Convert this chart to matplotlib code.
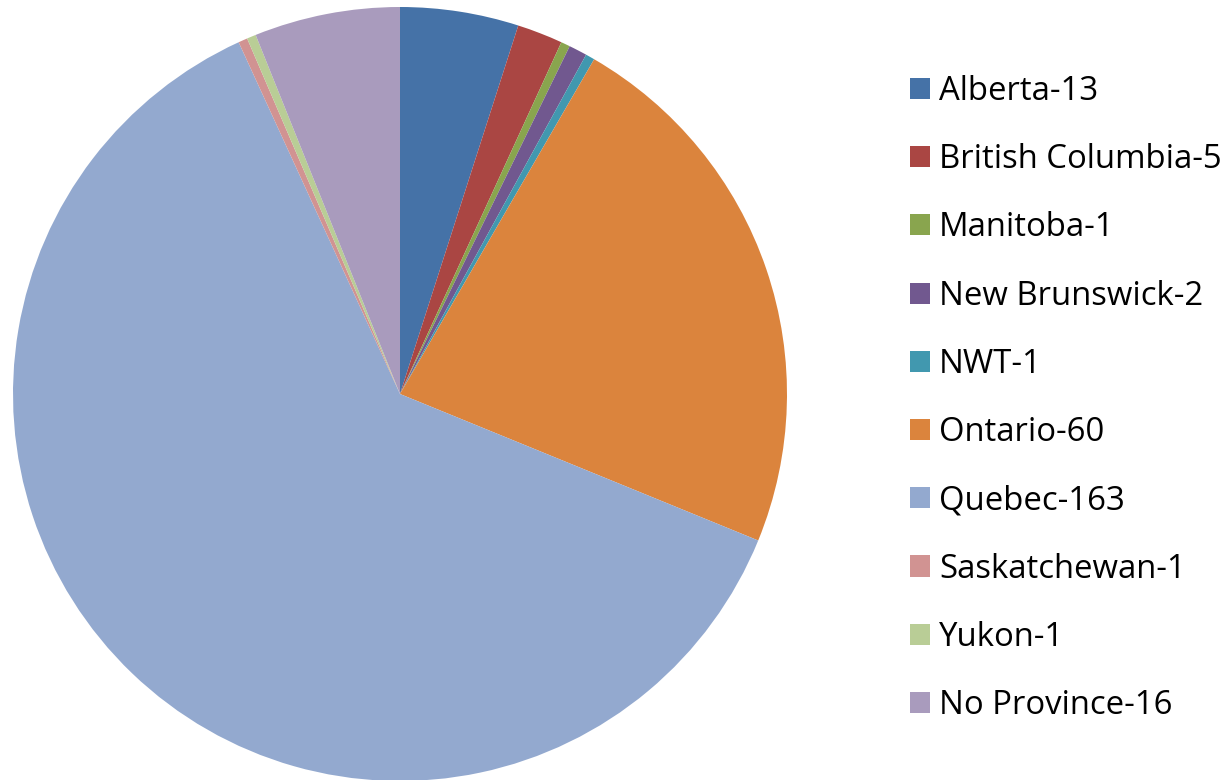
import matplotlib
matplotlib.use("Agg")
import matplotlib.pyplot as plt

provinces = ["Alberta", "British Columbia", "Manitoba", "New Brunswick", "NWT",
             "Ontario", "Quebec", "Saskatchewan", "Yukon", "No Province"]
counts = [13, 5, 1, 2, 1, 60, 163, 1, 1, 16]
colors = ["#4572A7", "#AA4643", "#89A54E", "#71588F", "#4198AF",
          "#DB843D", "#93A9CF", "#D19392", "#B9CD96", "#A99BBD"]
labels = [f"{p}-{c}" for p, c in zip(provinces, counts)]

W, H = 1226, 780
fig = plt.figure(figsize=(W / 100, H / 100), dpi=100)
cx, cy, r = 400, 394, 387
ax = fig.add_axes([(cx - r) / W, (H - cy - r) / H, 2 * r / W, 2 * r / H])
wedges, _ = ax.pie(counts, colors=colors, startangle=90, counterclock=False,
                   radius=1, wedgeprops=dict(linewidth=0))
ax.set_xlim(-1, 1)
ax.set_ylim(-1, 1)
ax.set_aspect("equal")
ax.axis("off")

fs = 23.7
fig.legend(wedges, labels, loc="upper left", bbox_to_anchor=(910 / W, 1 - 75 / H),
           frameon=False, prop=dict(family="Open Sans", size=fs),
           handlelength=0.61, handleheight=0.61, handletextpad=0.27,
           labelspacing=1.07, borderpad=0, borderaxespad=0)

fig.savefig("out.png", dpi=100)
